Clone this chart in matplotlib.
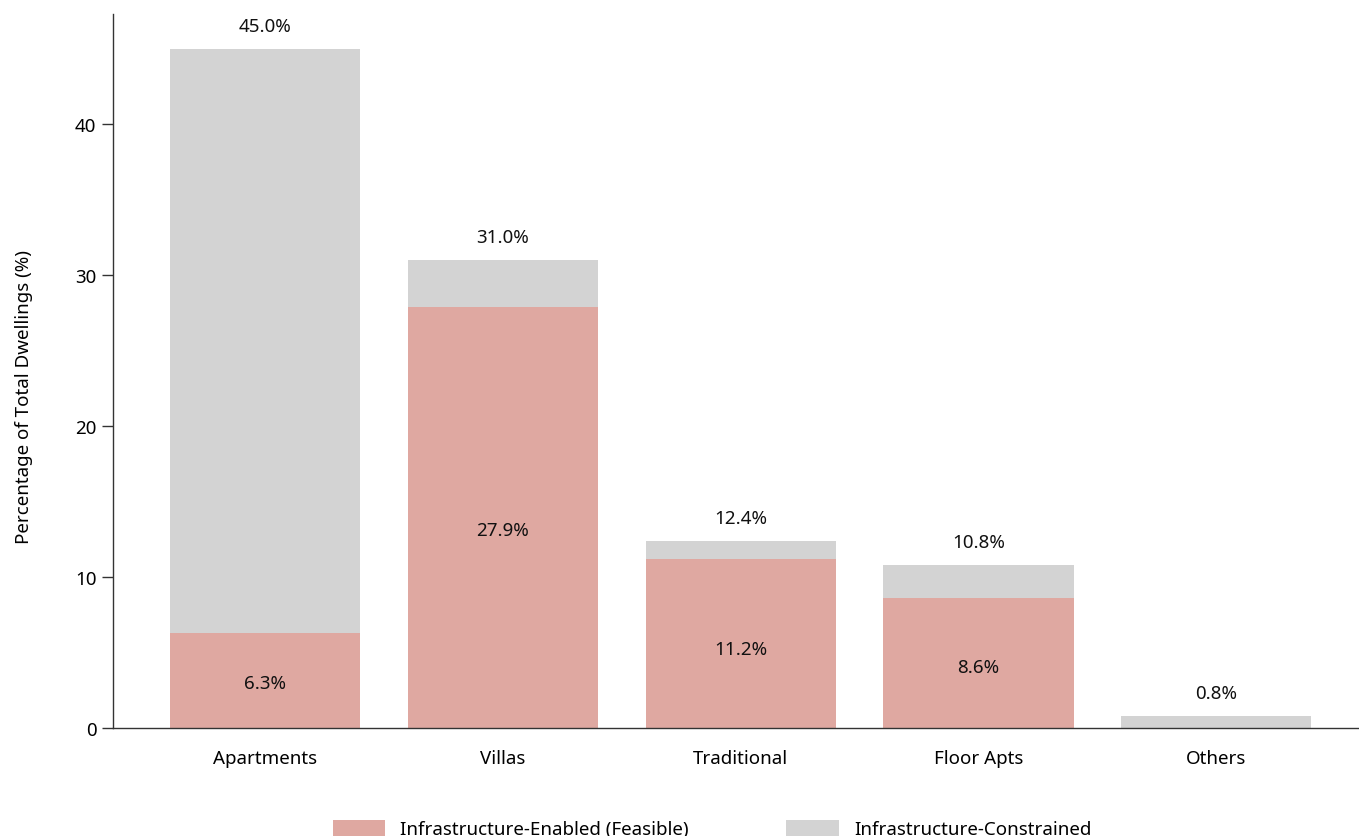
import numpy as np
import matplotlib
matplotlib.use('Agg')
import matplotlib.pyplot as plt

# dwelling types and shares (% of total dwellings)
categories = ['Apartments', 'Villas', 'Traditional', 'Floor Apts', 'Others']
feasible = [6.3, 27.9, 11.2, 8.6, 0.0]
totals = [45.0, 31.0, 12.4, 10.8, 0.8]
constrained = [t - f for t, f in zip(totals, feasible)]

plt.rcParams['font.family'] = ['Noto Sans', 'DejaVu Sans']

pink = '#dfa8a1'
grey = '#d3d3d3'
fs = 13.5

fig = plt.figure(figsize=(13.59, 8.37), dpi=100)
ax = fig.add_axes([113 / 1359, 108 / 837, 1246 / 1359, 714 / 837])

x = np.arange(len(categories))
b1 = ax.bar(x, feasible, width=0.8, color=pink, label='Infrastructure-Enabled (Feasible)')
b2 = ax.bar(x, constrained, width=0.8, bottom=feasible, color=grey, label='Infrastructure-Constrained')

# labels inside the feasible part and above the full bar
for xi, f, t in zip(x, feasible, totals):
    if f > 0:
        ax.text(xi, f * 0.47, '%.1f%%' % f, ha='center', va='center', fontsize=fs, color='#111111')
    ax.text(xi, t + 1.5, '%.1f%%' % t, ha='center', va='center', fontsize=fs, color='#111111')

ax.set_xlim(-0.639, 4.60)
ax.set_ylim(0, 47.3)
ax.set_yticks([0, 10, 20, 30, 40])
ax.set_xticks(x)
ax.set_xticklabels(categories)
ax.tick_params(axis='x', length=0, pad=15, labelsize=fs)
ax.tick_params(axis='y', length=8, width=1, color='#333333', labelsize=fs, pad=4)

for side in ['top', 'right']:
    ax.spines[side].set_visible(False)
for side in ['left', 'bottom']:
    ax.spines[side].set_color('#333333')
    ax.spines[side].set_linewidth(1)

ax.set_ylabel('Percentage of Total Dwellings (%)', fontsize=fs)
ax.yaxis.set_label_coords(-0.064, 0.465)

fig.legend(handles=[b1, b2], loc='center', bbox_to_anchor=(712 / 1359, 1 - 830 / 837),
           ncol=2, frameon=False, fontsize=fs, handlelength=2.8, handleheight=1.0,
           columnspacing=5.2, handletextpad=0.8)

fig.savefig('out.png', dpi=100)
